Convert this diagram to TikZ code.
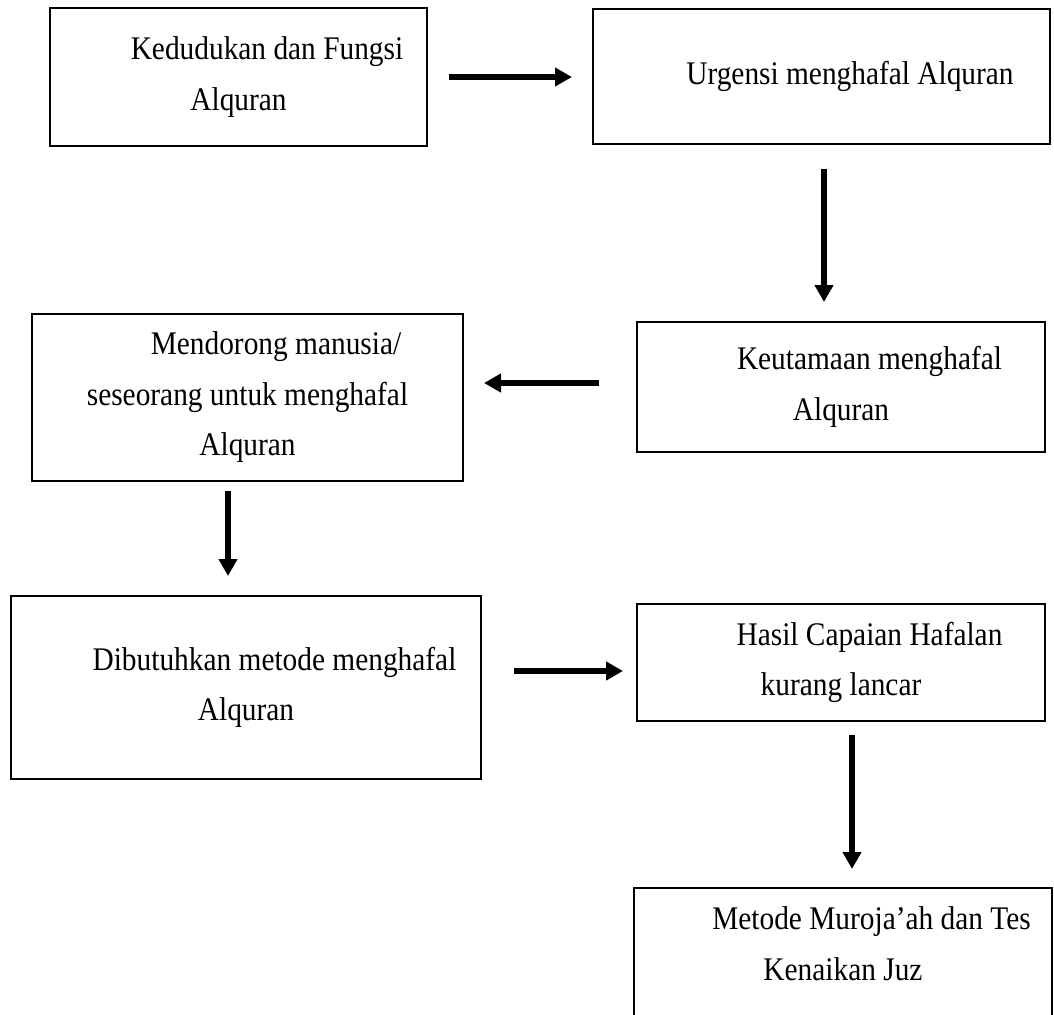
\documentclass[tikz,border=0pt]{standalone}
\usepackage{fontspec}
\setmainfont[FakeStretch=0.89]{Liberation Serif}
\usepackage{tikz}
\usetikzlibrary{arrows.meta,calc}

\tikzset{
    kotak/.style={draw, line width=2pt, inner sep=0pt, align=center,
        font=\fontsize{33}{50.5}\selectfont},
    teks/.style={inner sep=0pt, align=center, font=\fontsize{33}{50.5}\selectfont},
    panah/.style={line width=6pt, -{Triangle[length=17pt,width=18pt]}}
}
\newcommand{\indentawal}{\hspace*{57pt}}

\begin{document}
\begin{tikzpicture}[x=1pt,y=-1pt]
    \useasboundingbox (0,0) rectangle (1054,1014);
    \clip (0,0) rectangle (1054,1014);

    \node[kotak, minimum width=377pt, minimum height=138pt] (b1) at (238.5,77) {\indentawal Kedudukan dan Fungsi\\Alquran};
    \node[kotak, minimum width=457pt, minimum height=135pt] (b2) at (821.5,76.5) {\indentawal Urgensi menghafal Alquran};
    \node[kotak, minimum width=408pt, minimum height=130pt] (b3) at (841,387) {\indentawal Keutamaan menghafal\\Alquran};
    \node[kotak, minimum width=431pt, minimum height=167pt] (b4) at (247.5,397.5) {\indentawal Mendorong manusia/\\seseorang untuk menghafal\\Alquran};
    \node[kotak, minimum width=470pt, minimum height=183pt] (b5) at (246,687.5) {\indentawal Dibutuhkan metode menghafal\\Alquran};
    \node[kotak, minimum width=408pt, minimum height=117pt] (b6) at (841,662.5) {\indentawal Hasil Capaian Hafalan\\kurang lancar};
    \node[kotak, minimum width=418pt, minimum height=152pt] (b7) at (843,964) {};
    \node[teks, anchor=north] (t7) at ($(b7.north)+(0,19.5)$) {\indentawal Metode Muroja'ah dan Tes\\Kenaikan Juz};

    \draw[panah] ($(b1.east)+(21,0)$) -- ($(b2.west)+(-20,0.5)$);
    \draw[panah] ($(b2.south)+(2.5,24)$) -- ($(b3.north)+(-17,-19)$);
    \draw[panah] ($(b3.west)+(-37,-4)$) -- ($(b4.east)+(20,-14.5)$);
    \draw[panah] ($(b4.south)+(-19.5,9)$) -- ($(b5.north)+(-18,-19)$);
    \draw[panah] ($(b5.east)+(32,-16.5)$) -- ($(b6.west)+(-13,8.5)$);
    \draw[panah] ($(b6.south)+(11,13)$) -- ($(b7.north)+(9,-18)$);
\end{tikzpicture}
\end{document}
